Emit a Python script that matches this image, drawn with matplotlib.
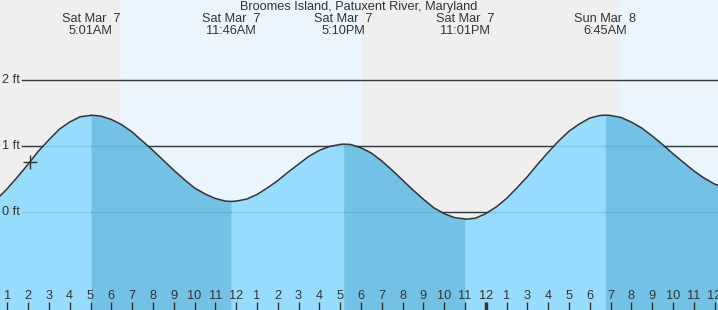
import numpy as np
import matplotlib.pyplot as plt

plt.rcParams['font.family'] = ['Liberation Sans', 'DejaVu Sans']

station = 'Broomes Island, Patuxent River, Maryland'

# hours since Sat Mar 7 00:00 standard time (clocks jump to EDT at 2AM Sunday)
tide_hours = [0.5, 1.0, 1.5, 2.0, 2.5, 3.0, 3.5, 4.0, 4.5, 5.0, 5.017,
              5.5, 6.0, 6.5, 7.0, 7.5, 8.0, 8.5, 9.0, 9.5, 10.0,
              10.5, 11.0, 11.5, 11.767, 12.0, 12.5, 13.0, 13.5, 14.0, 14.5, 15.0,
              15.5, 16.0, 16.5, 17.0, 17.167, 17.5, 18.0, 18.5, 19.0, 19.5, 20.0,
              20.5, 21.0, 21.5, 22.0, 22.5, 23.0, 23.017, 23.5, 24.0, 24.5, 25.0,
              25.5, 26.0, 26.5, 27.0, 27.5, 28.0, 28.5, 29.0, 29.5, 29.75, 30.0,
              30.5, 31.0, 31.5, 32.0, 32.5, 33.0, 33.5, 34.0, 34.5, 35.0, 35.5]
tide_ft = [0.19, 0.35, 0.53, 0.72, 0.92, 1.09, 1.25, 1.36, 1.44, 1.46, 1.465,
           1.45, 1.40, 1.32, 1.21, 1.07, 0.93, 0.78, 0.63, 0.49, 0.36,
           0.27, 0.20, 0.16, 0.155, 0.16, 0.19, 0.26, 0.36, 0.47, 0.60, 0.72,
           0.84, 0.93, 0.99, 1.02, 1.025, 1.02, 0.97, 0.89, 0.77, 0.63, 0.48,
           0.33, 0.19, 0.06, -0.03, -0.09, -0.11, -0.115, -0.10, -0.03, 0.07, 0.20,
           0.36, 0.53, 0.72, 0.90, 1.07, 1.22, 1.33, 1.42, 1.46, 1.465, 1.46,
           1.43, 1.36, 1.27, 1.15, 1.02, 0.88, 0.75, 0.62, 0.51, 0.42, 0.36]

event_hours = [5.017, 11.767, 17.167, 23.017, 29.75]
event_day = ['Sat Mar  7', 'Sat Mar  7', 'Sat Mar  7', 'Sat Mar  7', 'Sun Mar  8']
event_time = ['5:01AM', '11:46AM', '5:10PM', '11:01PM', '6:45AM']

daylight = [(6.42, 18.05), (30.46, 40.0)]
tick_hours = list(range(1, 36))
tick_labels = [str(h) for h in range(1, 13)] * 2 + ['1', '3', '4', '5', '6', '7', '8',
                                                   '9', '10', '11', '12']
midnight = 24
gridlines_ft = [0, 1, 2]
now_hour, now_ft = 2.09, 0.76

W, H = 718, 310
x0, x1 = 0.649, 35.168
y0, y1 = -1.492, 3.212
txt = '#333333'
night_bg = '#efefef'
day_bg = '#ebf5fe'
flood = '#98dcfd'
ebb = '#73c2e6'
fs = 9.2

fig = plt.figure(figsize=(W / 100, H / 100), dpi=100)
ax = fig.add_axes([0, 0, 1, 1])
ax.set_xlim(x0, x1)
ax.set_ylim(y0, y1)
ax.set_axis_off()
ax.add_patch(plt.Rectangle((0, 0), 1, 1, transform=ax.transAxes, color=night_bg, zorder=0))
for a, b in daylight:
    ax.axvspan(a, b, color=day_bg, lw=0, zorder=0.5)

for g in gridlines_ft:
    ax.axhline(g, xmin=22 / W, color=txt, lw=1.0, zorder=1)
    ax.axhline(g, xmin=22 / W, color='#1f5f8a', lw=1.0, alpha=0.15, zorder=3)
    ax.text(2 / W, g, '%d ft' % g, transform=ax.get_yaxis_transform(),
            ha='left', va='center', fontsize=fs, color=txt, zorder=6)

# light fill while the tide rises, darker while it falls
t = np.array(tide_hours)
h = np.array(tide_ft)
bounds = [-np.inf] + event_hours + [np.inf]
for i in range(len(bounds) - 1):
    keep = (t >= bounds[i]) & (t <= bounds[i + 1])
    ax.fill_between(t[keep], h[keep], y0, color=flood if i % 2 == 0 else ebb,
                    lw=0, zorder=2)
ax.plot(t, h, color=txt, lw=1.1, zorder=4)
ax.plot(now_hour, now_ft, marker='+', ms=10, mew=1.0, color=txt, zorder=5)

xt = ax.get_xaxis_transform()
for th, lab in zip(tick_hours, tick_labels):
    ax.plot([th, th], [0, 8 / H], transform=xt, color=txt,
            lw=2.5 if th == midnight else 1.0, solid_capstyle='butt', zorder=6)
    ax.text(th, 14 / H, lab, transform=xt, ha='center', va='center',
            fontsize=fs, color=txt, zorder=6)

for eh, d, s in zip(event_hours, event_day, event_time):
    ax.text(eh, 1 - 19 / H, d, transform=xt, ha='center', va='center', fontsize=fs, color=txt)
    ax.text(eh, 1 - 31 / H, s, transform=xt, ha='center', va='center', fontsize=fs, color=txt)
ax.text(0.5, 1 - 7 / H, station, transform=ax.transAxes, ha='center', va='center',
        fontsize=fs, color=txt)

fig.savefig('out.png', dpi=100)
